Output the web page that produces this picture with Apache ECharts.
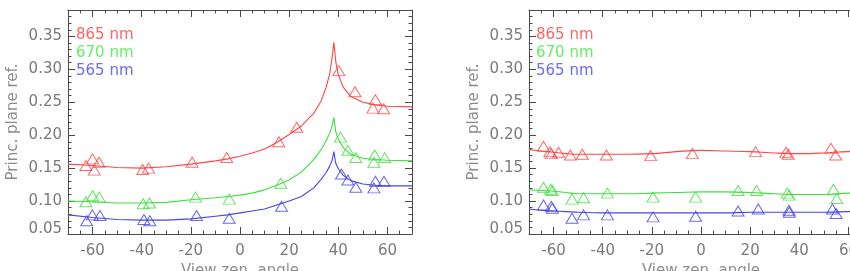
<!DOCTYPE html>
<html>
<head>
<meta charset="utf-8">
<script src="https://cdn.jsdelivr.net/npm/echarts@6/dist/echarts.min.js"></script>
<style>
  html, body { margin: 0; padding: 0; background: #fff; }
  #chart { width: 850px; height: 271px; }
</style>
</head>
<body>
<div id="chart"></div>
<script>
// 波长标签
const bandNames = ['865 nm', '670 nm', '565 nm'];
const bandColors = ['#ff4545', '#3ee03e', '#4545e6'];
const labelColors = ['#ff6464', '#66ee66', '#6c6cf0'];

// 左图：拟合曲线
const leftCurveX = [-70, -60, -50, -40, -30, -20, -10, -5, 0, 5, 10, 15, 20, 25, 30, 33, 35, 36.5, 37.5, 38.2, 39, 40, 42, 45, 50, 55, 60, 70];
const leftCurve865 = [0.156, 0.154, 0.151, 0.150, 0.152, 0.156, 0.161, 0.164, 0.168, 0.173, 0.179, 0.189, 0.201, 0.214, 0.233, 0.252, 0.272, 0.293, 0.318, 0.341, 0.311, 0.292, 0.273, 0.259, 0.250, 0.246, 0.244, 0.243];
const leftCurve670 = [0.100, 0.099, 0.097, 0.097, 0.098, 0.102, 0.105, 0.107, 0.109, 0.112, 0.117, 0.124, 0.132, 0.144, 0.163, 0.178, 0.191, 0.203, 0.214, 0.227, 0.205, 0.194, 0.181, 0.171, 0.165, 0.163, 0.162, 0.161];
const leftCurve565 = [0.079, 0.075, 0.072, 0.071, 0.071, 0.073, 0.077, 0.079, 0.082, 0.085, 0.088, 0.094, 0.100, 0.107, 0.120, 0.133, 0.143, 0.153, 0.162, 0.175, 0.157, 0.149, 0.139, 0.131, 0.126, 0.124, 0.123, 0.123];

// 左图：测量点 [角度, 反射率]
const leftPts865 = [[-62.7, 0.154], [-60.0, 0.164], [-59.3, 0.147], [-57.4, 0.159], [-39.6, 0.148], [-37.2, 0.150], [-19.5, 0.159], [-5.4, 0.166], [15.8, 0.190], [23.1, 0.212], [40.2, 0.298], [46.8, 0.266], [55.1, 0.254], [54.1, 0.241], [58.5, 0.240]];
const leftPts670 = [[-62.7, 0.099], [-60.0, 0.108], [-57.3, 0.106], [-39.4, 0.096], [-36.8, 0.097], [-18.1, 0.106], [-4.4, 0.103], [16.6, 0.127], [40.9, 0.197], [43.9, 0.177], [47.1, 0.166], [54.8, 0.170], [54.5, 0.159], [58.9, 0.166]];
const leftPts565 = [[-62.4, 0.070], [-60.1, 0.079], [-57.0, 0.078], [-39.1, 0.072], [-36.7, 0.070], [-17.7, 0.078], [-4.4, 0.074], [16.9, 0.092], [41.3, 0.141], [43.9, 0.132], [47.1, 0.121], [54.5, 0.120], [55.1, 0.130], [58.6, 0.130]];

// 右图：拟合曲线
const rightCurveX = [-70, -65, -60, -55, -50, -40, -30, -20, -10, 0, 10, 20, 30, 40, 50, 60, 70];
const rightCurve865 = [0.178, 0.176, 0.174, 0.172, 0.171, 0.171, 0.171, 0.172, 0.175, 0.177, 0.176, 0.175, 0.173, 0.172, 0.173, 0.175, 0.175];
const rightCurve670 = [0.117, 0.116, 0.115, 0.113, 0.111, 0.111, 0.111, 0.112, 0.113, 0.114, 0.114, 0.113, 0.111, 0.110, 0.110, 0.112, 0.113];
const rightCurve565 = [0.088, 0.086, 0.085, 0.084, 0.083, 0.082, 0.082, 0.082, 0.082, 0.082, 0.082, 0.083, 0.083, 0.083, 0.083, 0.084, 0.085];

// 右图：测量点
const rightPts865 = [[-64.1, 0.183], [-61.5, 0.175], [-60.9, 0.172], [-58.0, 0.174], [-53.2, 0.170], [-48.3, 0.171], [-38.5, 0.170], [-20.5, 0.169], [-3.5, 0.172], [22.2, 0.175], [34.6, 0.174], [35.5, 0.171], [52.9, 0.180], [54.8, 0.170]];
const rightPts670 = [[-64.1, 0.121], [-61.2, 0.118], [-60.5, 0.116], [-52.5, 0.103], [-47.8, 0.105], [-38.1, 0.112], [-19.5, 0.106], [-2.2, 0.106], [15.1, 0.116], [22.6, 0.116], [35.1, 0.112], [35.9, 0.109], [53.9, 0.118], [55.2, 0.104]];
const rightPts565 = [[-64.1, 0.094], [-60.9, 0.092], [-60.5, 0.089], [-52.5, 0.074], [-47.8, 0.079], [-38.1, 0.079], [-19.5, 0.076], [-2.2, 0.077], [15.1, 0.085], [23.3, 0.088], [35.8, 0.086], [35.9, 0.083], [53.5, 0.088], [55.0, 0.081]];

const xMin = -70, xMax = 70;
const yMin = 0.05, yMax = 0.39;

const FONT = "'DejaVu Sans', sans-serif";
const AXIS_COLOR = '#4a4a4a';
const TEXT_COLOR = '#7a7a7a';

const chart = echarts.init(document.getElementById('chart'), null, { renderer: 'canvas' });

// 生成一个网格的四组坐标轴（主刻度 + 次刻度，上下左右）
const makeXAxes = (g) => {
  const base = {
    gridIndex: g, type: 'value', min: xMin, max: xMax,
    splitLine: { show: false },
    axisLine: { show: true, onZero: false, lineStyle: { color: AXIS_COLOR, width: 1 } }
  };
  return [
    {
      ...base, position: 'bottom', splitNumber: 7,
      axisTick: { inside: true, length: 7, lineStyle: { color: AXIS_COLOR } },
      axisLabel: {
        margin: 10, color: TEXT_COLOR, fontFamily: FONT, fontSize: 15,
        showMinLabel: false, showMaxLabel: false
      },
      name: 'View zen. angle', nameLocation: 'middle', nameGap: 29,
      nameTextStyle: { color: '#8c8c8c', fontFamily: FONT, fontSize: 15 }
    },
    {
      ...base, position: 'bottom', interval: 5,
      axisLine: { show: false, onZero: false },
      axisTick: { inside: true, length: 3.5, lineStyle: { color: AXIS_COLOR } },
      axisLabel: { show: false }
    },
    {
      ...base, position: 'top', splitNumber: 7,
      axisTick: { inside: true, length: 7, lineStyle: { color: AXIS_COLOR } },
      axisLabel: { show: false }
    },
    {
      ...base, position: 'top', interval: 5,
      axisLine: { show: false, onZero: false },
      axisTick: { inside: true, length: 3.5, lineStyle: { color: AXIS_COLOR } },
      axisLabel: { show: false }
    }
  ];
};

const makeYAxes = (g) => {
  const base = {
    gridIndex: g, type: 'value', min: yMin, max: yMax,
    splitLine: { show: false },
    axisLine: { show: true, onZero: false, lineStyle: { color: AXIS_COLOR, width: 1 } }
  };
  return [
    {
      ...base, position: 'left', interval: 0.05,
      axisTick: { inside: true, length: 7, lineStyle: { color: AXIS_COLOR } },
      axisLabel: {
        margin: 6, color: TEXT_COLOR, fontFamily: FONT, fontSize: 15,
        showMaxLabel: false,
        formatter: (v) => (v < 0.0501 ? '{lo|0.05}' : v.toFixed(2)),
        rich: { lo: { color: TEXT_COLOR, fontFamily: FONT, fontSize: 15, padding: [0, 0, 10, 0] } }
      },
      name: 'Princ. plane ref.', nameLocation: 'middle', nameGap: 47,
      nameTextStyle: { color: '#8c8c8c', fontFamily: FONT, fontSize: 15 }
    },
    {
      ...base, position: 'left', interval: 0.01,
      axisLine: { show: false, onZero: false },
      axisTick: { inside: true, length: 3.5, lineStyle: { color: AXIS_COLOR } },
      axisLabel: { show: false }
    },
    {
      ...base, position: 'right', interval: 0.05,
      axisTick: { inside: true, length: 7, lineStyle: { color: AXIS_COLOR } },
      axisLabel: { show: false }
    },
    {
      ...base, position: 'right', interval: 0.01,
      axisLine: { show: false, onZero: false },
      axisTick: { inside: true, length: 3.5, lineStyle: { color: AXIS_COLOR } },
      axisLabel: { show: false }
    }
  ];
};

const curveSeries = (g, xs, ys, color) => ({
  type: 'line', xAxisIndex: g * 4, yAxisIndex: g * 4,
  data: xs.map((x, i) => [x, ys[i]]),
  showSymbol: false, symbol: 'none', smooth: g === 1 ? 0.4 : false,
  lineStyle: { color: color, width: 1.1 },
  silent: true, z: 2
});

const pointSeries = (g, pts, color) => ({
  type: 'scatter', xAxisIndex: g * 4, yAxisIndex: g * 4,
  data: pts, symbol: 'triangle', symbolSize: [12, 10],
  itemStyle: { color: 'rgba(0,0,0,0)', borderColor: color, borderWidth: 1 },
  silent: true, z: 3
});

// 图例文字（左上角）
const legendTexts = (left) => bandNames.map((name, i) => ({
  type: 'text', left: left, top: 28 + i * 18,
  style: { text: name, fill: labelColors[i], font: '15px ' + FONT }
}));

const option = {
  animation: false,
  backgroundColor: '#fff',
  grid: [
    { left: 68, top: 10, width: 344, height: 224, outerBoundsMode: 'none', containLabel: false },
    { left: 529, top: 10, width: 344, height: 224, outerBoundsMode: 'none', containLabel: false }
  ],
  xAxis: [...makeXAxes(0), ...makeXAxes(1)],
  yAxis: [...makeYAxes(0), ...makeYAxes(1)],
  graphic: [...legendTexts(76), ...legendTexts(536)],
  series: [
    curveSeries(0, leftCurveX, leftCurve865, bandColors[0]),
    curveSeries(0, leftCurveX, leftCurve670, bandColors[1]),
    curveSeries(0, leftCurveX, leftCurve565, bandColors[2]),
    pointSeries(0, leftPts865, bandColors[0]),
    pointSeries(0, leftPts670, bandColors[1]),
    pointSeries(0, leftPts565, bandColors[2]),
    curveSeries(1, rightCurveX, rightCurve865, bandColors[0]),
    curveSeries(1, rightCurveX, rightCurve670, bandColors[1]),
    curveSeries(1, rightCurveX, rightCurve565, bandColors[2]),
    pointSeries(1, rightPts865, bandColors[0]),
    pointSeries(1, rightPts670, bandColors[1]),
    pointSeries(1, rightPts565, bandColors[2])
  ]
};

chart.setOption(option);
</script>
</body>
</html>
